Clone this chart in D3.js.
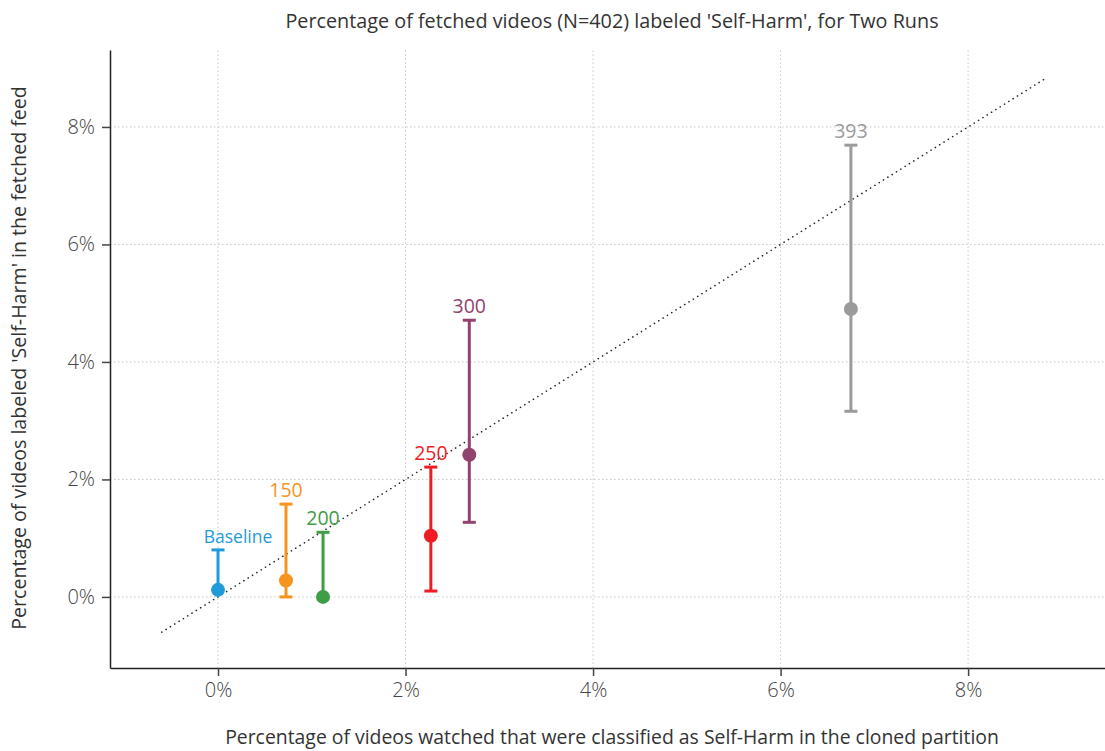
<!DOCTYPE html>
<html>
<head>
<meta charset="utf-8">
<script src="https://cdn.jsdelivr.net/npm/d3@7"></script>
<style>
  body { margin: 0; background: #fff; }
  text { font-family: "Open Sans", Lato, sans-serif; }
</style>
</head>
<body>
<div id="chart"></div>
<script>
// ---------------------------------------------------------
// DATA (values in %)
// ---------------------------------------------------------
const labels   = ["Baseline", "150", "200", "250", "300", "393"];
const watched  = [0.00, 0.725, 1.12, 2.27, 2.68, 6.75];
const fetched  = [0.12, 0.28, 0.00, 1.04, 2.42, 4.90];
const errLow   = [0.12, 0.00, 0.00, 0.10, 1.27, 3.16];
const errHigh  = [0.80, 1.58, 1.10, 2.21, 4.71, 7.69];
const colors   = ["#1f9bd7", "#f7941e", "#3f9c47", "#ee1d25", "#92426f", "#9b9b9b"];
const xTicks   = [0, 2, 4, 6, 8];
const yTicks   = [0, 2, 4, 6, 8];
const refLine  = [-0.6, 8.83];

const points = labels.map((l, i) => ({
  label: l, x: watched[i], y: fetched[i], lo: errLow[i], hi: errHigh[i], color: colors[i]
}));

// ---------------------------------------------------------
// SETUP
// ---------------------------------------------------------
const width = 1105, height = 751;
const margin = { left: 110, right: 0, top: 50, bottom: 83 };
const font = "'Open Sans', Lato, sans-serif";

const svg = d3.select("#chart").append("svg")
    .attr("width", width)
    .attr("height", height);

const x = d3.scaleLinear()
    .domain([-1.152, 9.46])
    .range([margin.left, width - margin.right]);

const y = d3.scaleLinear()
    .domain([-1.21, 9.31])
    .range([height - margin.bottom, margin.top]);

// grid
svg.append("g")
  .selectAll("line")
  .data(xTicks)
  .join("line")
    .attr("x1", d => x(d)).attr("x2", d => x(d))
    .attr("y1", y.range()[0]).attr("y2", y.range()[1])
    .attr("stroke", "#c8c8c8")
    .attr("stroke-width", 1)
    .attr("stroke-dasharray", "1.5,2.5");

svg.append("g")
  .selectAll("line")
  .data(yTicks)
  .join("line")
    .attr("x1", x.range()[0]).attr("x2", x.range()[1])
    .attr("y1", d => y(d)).attr("y2", d => y(d))
    .attr("stroke", "#c8c8c8")
    .attr("stroke-width", 1)
    .attr("stroke-dasharray", "1.5,2.5");

// axes
const xAxis = svg.append("g")
    .attr("transform", `translate(0,${height - margin.bottom})`)
    .call(d3.axisBottom(x).tickValues(xTicks).tickFormat(d => d + "%").tickSize(8).tickPadding(7).tickSizeOuter(0));

const yAxis = svg.append("g")
    .attr("transform", `translate(${margin.left},0)`)
    .call(d3.axisLeft(y).tickValues(yTicks).tickFormat(d => d + "%").tickSize(8).tickPadding(7).tickSizeOuter(0));

[xAxis, yAxis].forEach(a => {
  a.select(".domain").attr("stroke", "#222").attr("stroke-width", 1.5);
  a.selectAll(".tick line").attr("stroke", "#444").attr("stroke-width", 1.5);
  a.selectAll(".tick text")
    .attr("fill", "#444")
    .style("font-size", "20px")
    .style("font-weight", "300")
    .style("font-family", font);
});

// reference line y = x
svg.append("line")
    .attr("x1", x(refLine[0])).attr("y1", y(refLine[0]))
    .attr("x2", x(refLine[1])).attr("y2", y(refLine[1]))
    .attr("stroke", "#222")
    .attr("stroke-width", 1.6)
    .attr("stroke-linecap", "round")
    .attr("stroke-dasharray", "0.1,5");

// ---------------------------------------------------------
// POINTS + ERROR BARS
// ---------------------------------------------------------
const g = svg.append("g")
  .selectAll("g")
  .data(points)
  .join("g");

g.append("line")
    .attr("x1", d => x(d.x)).attr("x2", d => x(d.x))
    .attr("y1", d => y(d.lo)).attr("y2", d => y(d.hi))
    .attr("stroke", d => d.color)
    .attr("stroke-width", 3);

g.append("line")
    .attr("x1", d => x(d.x) - 6.5).attr("x2", d => x(d.x) + 6.5)
    .attr("y1", d => y(d.hi)).attr("y2", d => y(d.hi))
    .attr("stroke", d => d.color)
    .attr("stroke-width", 3);

g.filter(d => d.lo < d.y).append("line")
    .attr("x1", d => x(d.x) - 6.5).attr("x2", d => x(d.x) + 6.5)
    .attr("y1", d => y(d.lo)).attr("y2", d => y(d.lo))
    .attr("stroke", d => d.color)
    .attr("stroke-width", 3);

g.append("circle")
    .attr("cx", d => x(d.x))
    .attr("cy", d => y(d.y))
    .attr("r", 7)
    .attr("fill", d => d.color);

g.append("text")
    .attr("x", d => x(d.x) + (d.label === "Baseline" ? 20 : 0))
    .attr("y", d => y(d.hi) - 7)
    .attr("text-anchor", "middle")
    .attr("fill", d => d.color)
    .style("font-size", d => d.label === "Baseline" ? "17.5px" : "19.5px")
    .text(d => d.label);

// ---------------------------------------------------------
// TITLES
// ---------------------------------------------------------
svg.append("text")
    .attr("x", 612)
    .attr("y", 28)
    .attr("text-anchor", "middle")
    .attr("fill", "#333")
    .style("font-size", "19.8px")
    .text("Percentage of fetched videos (N=402) labeled 'Self-Harm', for Two Runs");

svg.append("text")
    .attr("x", 612)
    .attr("y", 744)
    .attr("text-anchor", "middle")
    .attr("fill", "#333")
    .style("font-size", "19.4px")
    .text("Percentage of videos watched that were classified as Self-Harm in the cloned partition");

svg.append("text")
    .attr("transform", "translate(26,358) rotate(-90)")
    .attr("text-anchor", "middle")
    .attr("fill", "#333")
    .style("font-size", "19.6px")
    .text("Percentage of videos labeled 'Self-Harm' in the fetched feed");
</script>
</body>
</html>
